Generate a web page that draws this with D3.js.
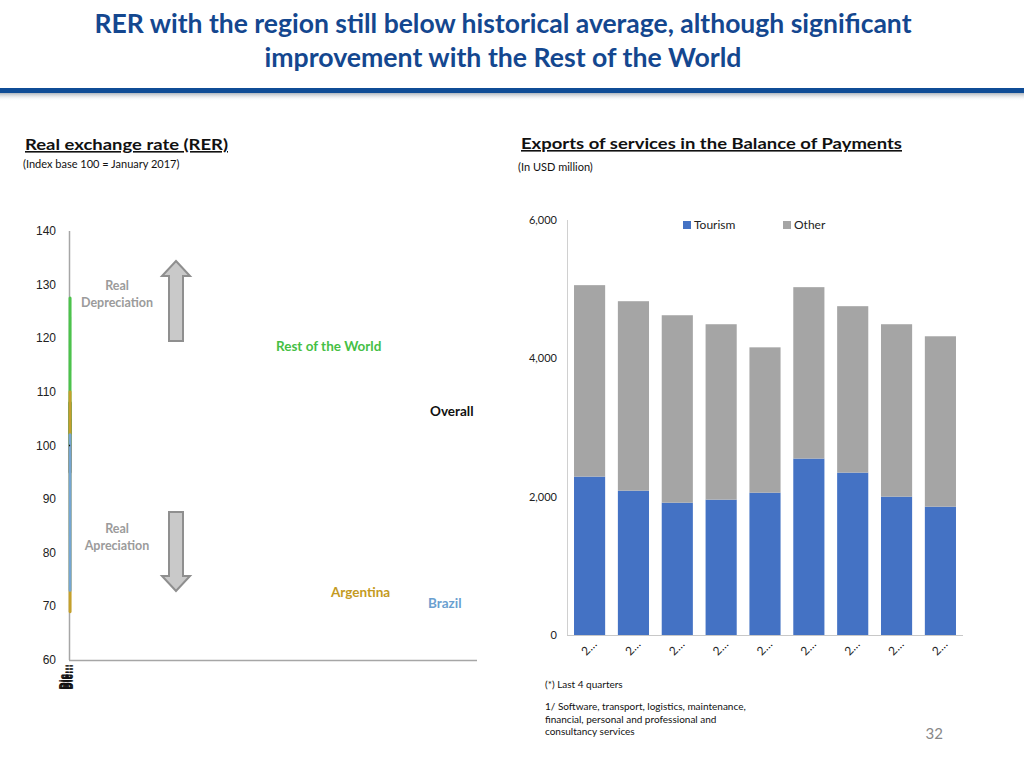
<!DOCTYPE html>
<html><head><meta charset="utf-8">
<script src="https://cdn.jsdelivr.net/npm/d3@7"></script>
<style>body{margin:0;background:#fff}svg{display:block}</style>
</head><body>
<svg id="c" width="1024" height="768"></svg>
<script>
// ---------- DATA ----------
// Left chart: RER, quarterly, index Jan 2017 = 100
const rerDates = ["2017-01","2017-04","2017-07","2017-10","2018-01","2018-04","2018-07","2018-10",
  "2019-01","2019-04","2019-07","2019-10","2020-01","2020-04","2020-07","2020-10",
  "2021-01","2021-04","2021-07","2021-10","2022-01","2022-04","2022-07","2022-10",
  "2023-01","2023-04","2023-07","2023-10"];
const rerOverall   = [100,101,103,104,106,107,108,106,104,103,102,104,105,103,100,98,96,95,97,99,101,103,102,101,100,102,104,105];
const rerRestWorld = [100,101,104,108,112,118,122,120,117,119,121,124,127.5,125,121,118,116,114,117,119,121,123,120,118,116,119,122,124];
const rerArgentina = [100,99,97,102,110,106,101,95,90,86,83,88,92,95,90,84,80,77,74,71,69,72,76,80,85,88,91,96];
const rerBrazil    = [100,101,102,99,96,92,94,97,99,96,92,88,85,82,79,76,73,75,78,81,84,87,90,93,92,95,97,98];
const rerHistAvg = 100;
const rerYTicks = [60,70,80,90,100,110,120,130,140];
const rerXTickLabels = ["Dic-17","Dic-18","Dic-19","Dic-20","Dic-21","Dic-22"];

// Right chart: exports of services (USD million)
const expCategories = ["2014","2015","2016","2017","2018","2019","2020","2021","2022 (*)"];
const expTourism = [2290,2087,1913,1957,2058,2551,2348,2000,1855];
const expOther   = [2768,2739,2710,2536,2101,2478,2406,2493,2464];
const expYTicks = [0,2000,4000,6000];

// ---------- DRAW ----------
const svg = d3.select("#c");
const defs = svg.append("defs");
const g1 = defs.append("linearGradient").attr("id","shadow").attr("x1",0).attr("y1",0).attr("x2",0).attr("y2",1);
g1.append("stop").attr("offset",0).attr("stop-color","#9aa3ad").attr("stop-opacity",0.8);
g1.append("stop").attr("offset",1).attr("stop-color","#ffffff").attr("stop-opacity",0);

// Header
const titleColor = "#14478f";
svg.append("text").attr("x",503).attr("y",33).attr("text-anchor","middle")
  .attr("font-family","Lato, 'Open Sans', sans-serif").attr("font-weight","bold").attr("font-size",26)
  .attr("fill",titleColor).attr("textLength",817).attr("lengthAdjust","spacingAndGlyphs")
  .text("RER with the region still below historical average, although significant");
svg.append("text").attr("x",503).attr("y",67).attr("text-anchor","middle")
  .attr("font-family","Lato, 'Open Sans', sans-serif").attr("font-weight","bold").attr("font-size",26)
  .attr("fill",titleColor).attr("textLength",477).attr("lengthAdjust","spacingAndGlyphs")
  .text("improvement with the Rest of the World");
svg.append("rect").attr("x",0).attr("y",93).attr("width",1024).attr("height",8).attr("fill","url(#shadow)");
svg.append("rect").attr("x",0).attr("y",88).attr("width",1024).attr("height",5).attr("fill","#0f4c96");

// Subtitles
function sub(x,y,txt,len){
  svg.append("text").attr("x",x).attr("y",y).attr("font-family","Lato, sans-serif").attr("font-weight","bold")
    .attr("font-size",16).attr("fill","#111").attr("text-decoration","underline")
    .attr("textLength",len).attr("lengthAdjust","spacingAndGlyphs").text(txt);
}
sub(25,150,"Real exchange rate (RER)",203);
sub(521,149,"Exports of services in the Balance of Payments",381);
svg.append("text").attr("x",23).attr("y",168).attr("font-family","Lato, sans-serif").attr("font-size",11)
  .attr("fill","#111").text("(Index base 100 = January 2017)");
svg.append("text").attr("x",518).attr("y",171).attr("font-family","Lato, sans-serif").attr("font-size",11)
  .attr("fill","#111").text("(In USD million)");

// ---- Left chart ----
const parse = d3.timeParse("%Y-%m");
const dates = rerDates.map(parse);
const xL = d3.scaleTime().domain(d3.extent(dates)).range([70,70.1]);
const yL = d3.scaleLinear().domain([60,140]).range([660,231]);
const left = svg.append("g");
// axes lines
left.append("line").attr("x1",69.5).attr("x2",69.5).attr("y1",yL(140)).attr("y2",yL(60)).attr("stroke","#a6a6a6").attr("stroke-width",1.5);
left.append("line").attr("x1",69).attr("x2",477).attr("y1",yL(60)+0.5).attr("y2",yL(60)+0.5).attr("stroke","#a6a6a6").attr("stroke-width",1.5);
left.selectAll("text.yt").data(rerYTicks).join("text").attr("class","yt")
  .attr("x",56).attr("y",d=>yL(d)+4).attr("text-anchor","end")
  .attr("font-family","'Liberation Sans', Arial, sans-serif").attr("font-size",12).attr("fill","#222").text(d=>d);
// x tick labels (collapsed)
const tickDates = rerXTickLabels.map((s,i)=>dates[3+4*i]);
left.selectAll("text.xt").data(rerXTickLabels).join("text").attr("class","xt")
  .attr("transform",(d,i)=>`translate(${xL(tickDates[i])-3 + i*1.2},664) rotate(-90)`)
  .attr("text-anchor","end").attr("font-family","'Liberation Sans', Arial, sans-serif")
  .attr("font-size",10).attr("font-weight","bold").attr("fill","#111").text(d=>d.slice(0,3)+"…");

const line = d3.line().x((d,i)=>xL(dates[i])).y(d=>yL(d));
const series = [
  {v:rerOverall,c:"#111111"},
  {v:rerRestWorld,c:"#4cc24c"},
  {v:rerArgentina,c:"#c4a02c"},
  {v:rerBrazil,c:"#74a6d2"}
];
left.selectAll("path.s").data(series).join("path").attr("class","s")
  .attr("d",d=>line(d.v)).attr("fill","none").attr("stroke",d=>d.c).attr("stroke-width",3)
  .attr("stroke-linejoin","round").attr("stroke-linecap","butt");
// historical average reference
left.append("line").attr("x1",xL(dates[0])-1).attr("x2",xL(dates[dates.length-1])).attr("y1",yL(rerHistAvg)).attr("y2",yL(rerHistAvg))
  .attr("stroke","#111").attr("stroke-width",1.5);

// annotations
const annoFont = "Lato, 'Open Sans', sans-serif";
function anno(x,y,lines,color,size,anchor){
  lines.forEach((t,i)=>svg.append("text").attr("x",x).attr("y",y+i*17).attr("text-anchor",anchor||"middle")
    .attr("font-family",annoFont).attr("font-weight","bold").attr("font-size",size).attr("fill",color).text(t));
}
anno(117,290,["Real","Depreciation"],"#9b9b9b",12.5);
anno(117,533,["Real","Apreciation"],"#9b9b9b",12.5);
anno(276,351,["Rest of the World"],"#45bf45",13.5,"start");
anno(430,416,["Overall"],"#111",13.5,"start");
anno(331,597,["Argentina"],"#c49a22",13.5,"start");
anno(428,608,["Brazil"],"#6a9fd0",13.5,"start");
// arrows
svg.append("path").attr("d","M176,261 L190,276 L183,276 L183,341 L169,341 L169,276 L162,276 Z")
  .attr("fill","#c9c9c9").attr("stroke","#8f8f8f").attr("stroke-width",2).attr("stroke-linejoin","miter");
svg.append("path").attr("d","M169,512 L183,512 L183,576 L190,576 L176,591 L162,576 L169,576 Z")
  .attr("fill","#c9c9c9").attr("stroke","#8f8f8f").attr("stroke-width",2).attr("stroke-linejoin","miter");

// ---- Right chart ----
const xR = d3.scaleBand().domain(expCategories).range([567,963]).paddingInner(0.29).paddingOuter(0.16);
const yR = d3.scaleLinear().domain([0,6000]).range([635,220]);
const right = svg.append("g");
const stack = expCategories.map((c,i)=>({c,t:expTourism[i],o:expOther[i]}));
right.selectAll("rect.t").data(stack).join("rect").attr("class","t")
  .attr("x",d=>xR(d.c)).attr("width",xR.bandwidth()).attr("y",d=>yR(d.t)).attr("height",d=>yR(0)-yR(d.t)).attr("fill","#4472c4");
right.selectAll("rect.o").data(stack).join("rect").attr("class","o")
  .attr("x",d=>xR(d.c)).attr("width",xR.bandwidth()).attr("y",d=>yR(d.t+d.o)).attr("height",d=>yR(d.t)-yR(d.t+d.o)).attr("fill","#a5a5a5");
right.append("line").attr("x1",567.5).attr("x2",567.5).attr("y1",220).attr("y2",635).attr("stroke","#d0d0d0");
right.append("line").attr("x1",567).attr("x2",963).attr("y1",635.5).attr("y2",635.5).attr("stroke","#c8c8c8");
right.selectAll("text.yt").data(expYTicks).join("text").attr("class","yt")
  .attr("x",557).attr("y",d=>yR(d)+4).attr("text-anchor","end")
  .attr("font-family","Lato, sans-serif").attr("font-size",11).attr("fill","#222").text(d=>d3.format(",")(d));
right.selectAll("text.xt").data(expCategories).join("text").attr("class","xt")
  .attr("transform",d=>`translate(${xR(d)+xR.bandwidth()/2+8},645) rotate(-45)`)
  .attr("text-anchor","end").attr("font-family","Lato, sans-serif").attr("font-size",12).attr("fill","#222")
  .text(d=>d.slice(0,1)+"…");
// legend
const leg = [{n:"Tourism",c:"#4472c4",x:683},{n:"Other",c:"#a5a5a5",x:783}];
leg.forEach(l=>{
  svg.append("rect").attr("x",l.x).attr("y",221).attr("width",8).attr("height",8).attr("fill",l.c);
  svg.append("text").attr("x",l.x+11).attr("y",229).attr("font-family","Lato, sans-serif").attr("font-size",12).attr("fill","#222").text(l.n);
});

// footnotes
const fn = [["(*) Last 4 quarters",688],["1/ Software, transport, logistics, maintenance,",710],["financial, personal and professional and",723],["consultancy services",735]];
fn.forEach(f=>svg.append("text").attr("x",545).attr("y",f[1]).attr("font-family","Lato, sans-serif").attr("font-size",10).attr("fill","#111").text(f[0]));
svg.append("text").attr("x",943).attr("y",739).attr("text-anchor","end").attr("font-family","Lato, sans-serif").attr("font-size",15).attr("fill","#888").text("32");
</script>
</body></html>
